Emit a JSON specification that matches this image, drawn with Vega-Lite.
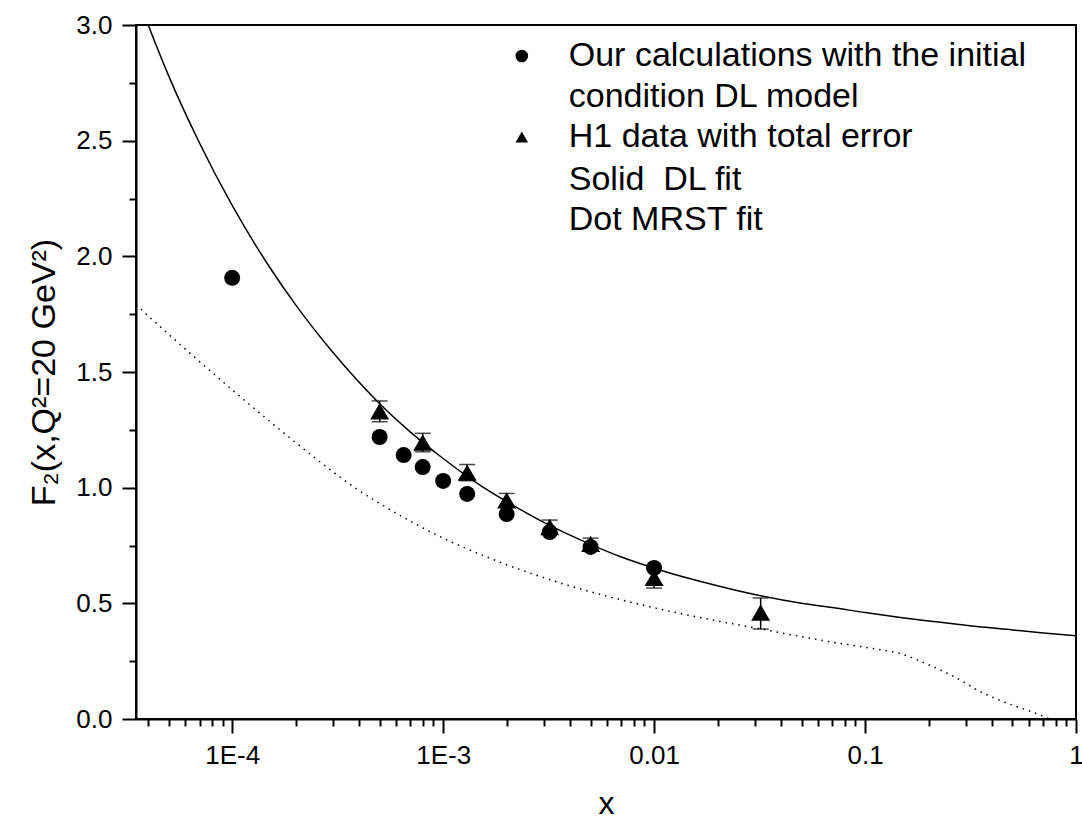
{
  "$schema": "https://vega.github.io/schema/vega-lite/v6.json",
  "autosize": "none",
  "width": 940,
  "height": 694,
  "padding": {"left": 136, "top": 25, "right": 6, "bottom": 106},
  "background": "white",
  "config": {
    "view": {"stroke": "black", "strokeWidth": 2},
    "font": "Liberation Sans",
    "axis": {"labelFont": "Liberation Sans", "titleFont": "Liberation Sans", "labelColor": "black", "titleColor": "black", "domainColor": "black", "domainWidth": 2, "tickColor": "black", "tickWidth": 2, "grid": false, "labelFlush": false, "labelOverlap": false, "titleFontWeight": "normal"}
  },
  "resolve": {"axis": {"x": "independent", "y": "independent"}},
  "datasets": {
    "dl": [
      {"x": 3.5e-5, "y": 3.14}, {"x": 4e-5, "y": 3.0}, {"x": 5e-5, "y": 2.78}, {"x": 7e-5, "y": 2.49},
      {"x": 1e-4, "y": 2.22}, {"x": 1.5e-4, "y": 1.955}, {"x": 2e-4, "y": 1.79}, {"x": 3e-4, "y": 1.585},
      {"x": 5e-4, "y": 1.363}, {"x": 7e-4, "y": 1.24}, {"x": 1e-3, "y": 1.126}, {"x": 1.5e-3, "y": 1.01},
      {"x": 2e-3, "y": 0.94}, {"x": 3e-3, "y": 0.85}, {"x": 5e-3, "y": 0.755}, {"x": 7e-3, "y": 0.70},
      {"x": 0.01, "y": 0.652}, {"x": 0.015, "y": 0.605}, {"x": 0.02, "y": 0.576}, {"x": 0.03, "y": 0.538},
      {"x": 0.05, "y": 0.50}, {"x": 0.07, "y": 0.482}, {"x": 0.1, "y": 0.46}, {"x": 0.15, "y": 0.438},
      {"x": 0.2, "y": 0.424}, {"x": 0.3, "y": 0.405}, {"x": 0.5, "y": 0.385}, {"x": 0.7, "y": 0.372},
      {"x": 1, "y": 0.36}
    ],
    "mrst": [
      {"x": 3.5e-5, "y": 1.79}, {"x": 5e-5, "y": 1.663}, {"x": 7e-5, "y": 1.545}, {"x": 1e-4, "y": 1.423},
      {"x": 1.5e-4, "y": 1.288}, {"x": 2e-4, "y": 1.195}, {"x": 3e-4, "y": 1.069}, {"x": 3.77e-4, "y": 1.003},
      {"x": 5e-4, "y": 0.932}, {"x": 7e-4, "y": 0.855}, {"x": 1e-3, "y": 0.782}, {"x": 1.5e-3, "y": 0.712},
      {"x": 2e-3, "y": 0.667}, {"x": 3e-3, "y": 0.611}, {"x": 3.68e-3, "y": 0.585}, {"x": 5e-3, "y": 0.55},
      {"x": 7e-3, "y": 0.515}, {"x": 0.01, "y": 0.481}, {"x": 0.0133, "y": 0.456}, {"x": 0.02, "y": 0.424},
      {"x": 0.03, "y": 0.394}, {"x": 0.05, "y": 0.356}, {"x": 0.07, "y": 0.332}, {"x": 0.1, "y": 0.31},
      {"x": 0.15, "y": 0.28}, {"x": 0.2, "y": 0.235}, {"x": 0.3, "y": 0.155}, {"x": 0.34, "y": 0.125},
      {"x": 0.4, "y": 0.095}, {"x": 0.5, "y": 0.06}, {"x": 0.6, "y": 0.035}, {"x": 0.7, "y": 0.012},
      {"x": 0.75, "y": 0.0}, {"x": 0.8, "y": -0.01}
    ],
    "calc": [
      {"x": 1e-4, "y": 1.907}, {"x": 5e-4, "y": 1.219}, {"x": 6.5e-4, "y": 1.141}, {"x": 8e-4, "y": 1.089},
      {"x": 1e-3, "y": 1.029}, {"x": 1.3e-3, "y": 0.973}, {"x": 2e-3, "y": 0.886}, {"x": 3.2e-3, "y": 0.808},
      {"x": 5e-3, "y": 0.744}, {"x": 0.01, "y": 0.653}
    ],
    "h1": [
      {"x": 5e-4, "y": 1.33, "lo": 1.285, "hi": 1.375},
      {"x": 8e-4, "y": 1.195, "lo": 1.155, "hi": 1.235},
      {"x": 1.3e-3, "y": 1.065, "lo": 1.03, "hi": 1.10},
      {"x": 2e-3, "y": 0.945, "lo": 0.915, "hi": 0.975},
      {"x": 3.2e-3, "y": 0.83, "lo": 0.80, "hi": 0.86},
      {"x": 5e-3, "y": 0.757, "lo": 0.732, "hi": 0.782},
      {"x": 0.01, "y": 0.61, "lo": 0.566, "hi": 0.654},
      {"x": 0.032, "y": 0.46, "lo": 0.389, "hi": 0.523}
    ],
    "legtext": [
      {"x": 3.94e-3, "y": 2.866, "text": "Our calculations with the initial"},
      {"x": 3.94e-3, "y": 2.69, "text": "condition DL model"},
      {"x": 3.94e-3, "y": 2.516, "text": "H1 data with total error"},
      {"x": 3.94e-3, "y": 2.33, "text": "Solid\u00a0 DL fit"},
      {"x": 3.94e-3, "y": 2.157, "text": "Dot MRST fit"}
    ],
    "legsym": [
      {"x": 2.36e-3, "y": 2.866, "shape": "circle"},
      {"x": 2.36e-3, "y": 2.516, "shape": "triangle-up"}
    ]
  },
  "layer": [
    {
      "data": {"name": "dl"},
      "mark": {"type": "line", "color": "black", "strokeWidth": 1.5, "interpolate": "monotone", "clip": true},
      "encoding": {
        "x": {"field": "x", "type": "quantitative",
          "scale": {"type": "log", "domain": [3.5e-5, 1], "nice": false},
          "axis": {
            "orient": "bottom",
            "title": "x", "titleFontSize": 32, "titlePadding": 20,
            "values": [1e-4, 1e-3, 0.01, 0.1, 1],
            "labelExpr": "datum.value >= 0.01 ? format(datum.value, '') : '1E' + round(log(datum.value)/LN10)",
            "tickSize": 14,
            "labelFontSize": 26, "labelPadding": 9
          }
        },
        "y": {"field": "y", "type": "quantitative",
          "scale": {"domain": [0, 3], "nice": false},
          "axis": {
            "orient": "left",
            "title": "F₂(x,Q²=20 GeV²)", "titleFontSize": 34, "titlePadding": 14,
            "values": [0, 0.5, 1, 1.5, 2, 2.5, 3],
            "format": ".1f",
            "tickSize": 14,
            "labelFontSize": 26, "labelPadding": 10
          }
        }
      }
    },
    {
      "data": {"name": "mrst"},
      "mark": {"type": "line", "color": "black", "strokeWidth": 1.5, "strokeDash": [1.5, 5], "interpolate": "monotone", "clip": true},
      "encoding": {
        "x": {"field": "x", "type": "quantitative",
          "axis": {
            "orient": "bottom", "title": null, "labels": false, "domain": false, "tickSize": 7,
            "values": [4e-5, 5e-5, 6e-5, 7e-5, 8e-5, 9e-5, 2e-4, 3e-4, 4e-4, 5e-4, 6e-4, 7e-4, 8e-4, 9e-4, 2e-3, 3e-3, 4e-3, 5e-3, 6e-3, 7e-3, 8e-3, 9e-3, 0.02, 0.03, 0.04, 0.05, 0.06, 0.07, 0.08, 0.09, 0.2, 0.3, 0.4, 0.5, 0.6, 0.7, 0.8, 0.9]
          }
        },
        "y": {"field": "y", "type": "quantitative",
          "axis": {
            "orient": "left", "title": null, "labels": false, "domain": false, "tickSize": 7,
            "values": [0.25, 0.75, 1.25, 1.75, 2.25, 2.75]
          }
        }
      }
    },
    {
      "data": {"name": "h1"},
      "mark": {"type": "rule", "color": "black", "strokeWidth": 1.5},
      "encoding": {
        "x": {"field": "x", "type": "quantitative", "axis": null},
        "y": {"field": "lo", "type": "quantitative", "axis": null},
        "y2": {"field": "hi"}
      }
    },
    {
      "data": {"name": "h1"},
      "mark": {"type": "tick", "color": "black", "orient": "horizontal", "size": 16, "thickness": 1.5},
      "encoding": {
        "x": {"field": "x", "type": "quantitative", "axis": null},
        "y": {"field": "lo", "type": "quantitative", "axis": null}
      }
    },
    {
      "data": {"name": "h1"},
      "mark": {"type": "tick", "color": "black", "orient": "horizontal", "size": 16, "thickness": 1.5},
      "encoding": {
        "x": {"field": "x", "type": "quantitative", "axis": null},
        "y": {"field": "hi", "type": "quantitative", "axis": null}
      }
    },
    {
      "data": {"name": "calc"},
      "mark": {"type": "point", "shape": "circle", "filled": true, "color": "black", "opacity": 1, "size": 256},
      "encoding": {
        "x": {"field": "x", "type": "quantitative", "axis": null},
        "y": {"field": "y", "type": "quantitative", "axis": null}
      }
    },
    {
      "data": {"name": "h1"},
      "mark": {"type": "point", "shape": "triangle-up", "filled": true, "color": "black", "opacity": 1, "size": 360},
      "encoding": {
        "x": {"field": "x", "type": "quantitative", "axis": null},
        "y": {"field": "y", "type": "quantitative", "axis": null}
      }
    },
    {
      "data": {"name": "legsym"},
      "mark": {"type": "point", "filled": true, "color": "black", "opacity": 1, "size": 160},
      "encoding": {
        "x": {"field": "x", "type": "quantitative", "axis": null},
        "y": {"field": "y", "type": "quantitative", "axis": null},
        "shape": {"field": "shape", "type": "nominal", "scale": null, "legend": null}
      }
    },
    {
      "data": {"name": "legtext"},
      "mark": {"type": "text", "align": "left", "baseline": "middle", "fontSize": 34, "font": "Liberation Sans", "color": "black"},
      "encoding": {
        "x": {"field": "x", "type": "quantitative", "axis": null},
        "y": {"field": "y", "type": "quantitative", "axis": null},
        "text": {"field": "text"}
      }
    }
  ]
}
